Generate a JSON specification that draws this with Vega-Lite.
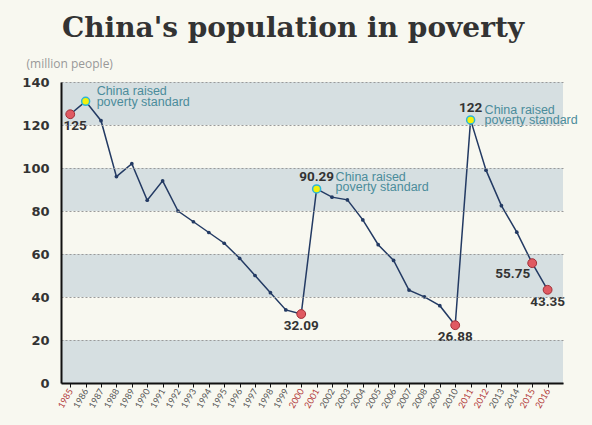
{
  "$schema": "https://vega.github.io/schema/vega-lite/v6.json",
  "width": 502,
  "height": 301,
  "autosize": {"type": "none"},
  "padding": {"left": 61, "top": 82, "right": 29, "bottom": 42},
  "background": "#f8f8f0",
  "title": {
    "text": "China's population in poverty",
    "font": "DejaVu Serif",
    "fontSize": 28,
    "fontWeight": "bold",
    "color": "#333333",
    "anchor": "middle",
    "baseline": "alphabetic",
    "offset": -8,
    "dx": -19
  },
  "config": {
    "view": {"stroke": null},
    "axis": {"domainColor": "#111111", "domainWidth": 2}
  },
  "datasets": {
    "main": [
      {"year": 1985, "value": 125, "kind": "red", "label": "125", "lpos": "b1", "npos": ""},
      {"year": 1986, "value": 131, "kind": "yellow", "label": "", "lpos": "", "npos": "n1"},
      {"year": 1987, "value": 122, "kind": "none", "label": "", "lpos": "", "npos": ""},
      {"year": 1988, "value": 96, "kind": "none", "label": "", "lpos": "", "npos": ""},
      {"year": 1989, "value": 102, "kind": "none", "label": "", "lpos": "", "npos": ""},
      {"year": 1990, "value": 85, "kind": "none", "label": "", "lpos": "", "npos": ""},
      {"year": 1991, "value": 94, "kind": "none", "label": "", "lpos": "", "npos": ""},
      {"year": 1992, "value": 80, "kind": "none", "label": "", "lpos": "", "npos": ""},
      {"year": 1993, "value": 75, "kind": "none", "label": "", "lpos": "", "npos": ""},
      {"year": 1994, "value": 70, "kind": "none", "label": "", "lpos": "", "npos": ""},
      {"year": 1995, "value": 65, "kind": "none", "label": "", "lpos": "", "npos": ""},
      {"year": 1996, "value": 58, "kind": "none", "label": "", "lpos": "", "npos": ""},
      {"year": 1997, "value": 50, "kind": "none", "label": "", "lpos": "", "npos": ""},
      {"year": 1998, "value": 42, "kind": "none", "label": "", "lpos": "", "npos": ""},
      {"year": 1999, "value": 34, "kind": "none", "label": "", "lpos": "", "npos": ""},
      {"year": 2000, "value": 32.09, "kind": "red", "label": "32.09", "lpos": "b", "npos": ""},
      {"year": 2001, "value": 90.29, "kind": "yellow", "label": "90.29", "lpos": "a", "npos": "n2"},
      {"year": 2002, "value": 86.45, "kind": "none", "label": "", "lpos": "", "npos": ""},
      {"year": 2003, "value": 85.17, "kind": "none", "label": "", "lpos": "", "npos": ""},
      {"year": 2004, "value": 75.87, "kind": "none", "label": "", "lpos": "", "npos": ""},
      {"year": 2005, "value": 64.32, "kind": "none", "label": "", "lpos": "", "npos": ""},
      {"year": 2006, "value": 56.98, "kind": "none", "label": "", "lpos": "", "npos": ""},
      {"year": 2007, "value": 43.2, "kind": "none", "label": "", "lpos": "", "npos": ""},
      {"year": 2008, "value": 40.07, "kind": "none", "label": "", "lpos": "", "npos": ""},
      {"year": 2009, "value": 35.97, "kind": "none", "label": "", "lpos": "", "npos": ""},
      {"year": 2010, "value": 26.88, "kind": "red", "label": "26.88", "lpos": "b", "npos": ""},
      {"year": 2011, "value": 122.38, "kind": "yellow", "label": "122", "lpos": "a", "npos": "n3"},
      {"year": 2012, "value": 98.99, "kind": "none", "label": "", "lpos": "", "npos": ""},
      {"year": 2013, "value": 82.49, "kind": "none", "label": "", "lpos": "", "npos": ""},
      {"year": 2014, "value": 70.17, "kind": "none", "label": "", "lpos": "", "npos": ""},
      {"year": 2015, "value": 55.75, "kind": "red", "label": "55.75", "lpos": "bl", "npos": ""},
      {"year": 2016, "value": 43.35, "kind": "red", "label": "43.35", "lpos": "b", "npos": ""}
    ],
    "bands": [
      {"value": 0, "hi": 20},
      {"value": 40, "hi": 60},
      {"value": 80, "hi": 100},
      {"value": 120, "hi": 140}
    ]
  },
  "encoding": {
    "y": {
      "field": "value",
      "type": "quantitative",
      "scale": {"domain": [0, 140], "nice": false, "zero": true},
      "axis": {
        "zindex": 1,
        "title": "(million people)",
        "titleAngle": 0,
        "titleAlign": "left",
        "titleBaseline": "middle",
        "titleX": -35,
        "titleY": -19,
        "titleFont": "Open Sans",
        "titleFontSize": 12,
        "titleFontWeight": "normal",
        "titleColor": "#999999",
        "values": [0, 20, 40, 60, 80, 100, 120, 140],
        "ticks": false,
        "labelPadding": 12,
        "labelFont": "DejaVu Sans",
        "labelFontSize": 13,
        "labelFontWeight": "bold",
        "labelColor": "#333333",
        "grid": true,
        "gridColor": "#9a9a9a",
        "gridDash": [2, 2],
        "gridWidth": 1
      }
    }
  },
  "layer": [
    {
      "data": {"name": "bands"},
      "mark": {"type": "rect", "color": "#d6dfe1"},
      "encoding": {"y2": {"field": "hi"}}
    },
    {
      "data": {"name": "main"},
      "encoding": {
        "x": {
          "field": "year",
          "type": "quantitative",
          "scale": {"domain": [1984.4, 2017], "nice": false, "zero": false},
          "axis": {
            "zindex": 1,
            "title": null,
            "values": [1985, 1986, 1987, 1988, 1989, 1990, 1991, 1992, 1993, 1994, 1995, 1996, 1997, 1998, 1999, 2000, 2001, 2002, 2003, 2004, 2005, 2006, 2007, 2008, 2009, 2010, 2011, 2012, 2013, 2014, 2015, 2016],
            "format": "d",
            "grid": false,
            "labelAngle": -60,
            "labelFont": "Lato",
            "labelFontSize": 9,
            "labelPadding": 2,
            "labelOverlap": false,
            "labelColor": {
              "condition": {"test": "indexof([1985,2000,2001,2011,2012,2015,2016], datum.value) >= 0", "value": "#b23a3a"},
              "value": "#555555"
            },
            "tickColor": "#111111",
            "tickSize": 4
          }
        }
      },
      "layer": [
        {"mark": {"type": "line", "color": "#233a63", "strokeWidth": 1.5}},
        {
          "transform": [{"filter": "datum.kind == 'none'"}],
          "mark": {"type": "circle", "size": 14, "color": "#233a63", "opacity": 1}
        },
        {
          "transform": [{"filter": "datum.kind == 'red'"}],
          "mark": {"type": "point", "shape": "circle", "filled": true, "size": 78, "fill": "#e05a62", "stroke": "#a03038", "strokeWidth": 1, "opacity": 1}
        },
        {
          "transform": [{"filter": "datum.kind == 'yellow'"}],
          "mark": {"type": "point", "shape": "circle", "filled": true, "size": 64, "fill": "#f2f20a", "stroke": "#2bb5d8", "strokeWidth": 1.5, "opacity": 1}
        },
        {
          "transform": [{"filter": "datum.lpos == 'b'"}],
          "mark": {"type": "text", "font": "Roboto", "fontSize": 13.5, "fontWeight": "bold", "color": "#333333", "baseline": "middle", "align": "center", "dy": 12},
          "encoding": {"text": {"field": "label"}}
        },
        {
          "transform": [{"filter": "datum.lpos == 'b1'"}],
          "mark": {"type": "text", "font": "Roboto", "fontSize": 13.5, "fontWeight": "bold", "color": "#333333", "baseline": "middle", "align": "center", "dy": 12, "dx": 5},
          "encoding": {"text": {"field": "label"}}
        },
        {
          "transform": [{"filter": "datum.lpos == 'a'"}],
          "mark": {"type": "text", "font": "Roboto", "fontSize": 13.5, "fontWeight": "bold", "color": "#333333", "baseline": "middle", "align": "center", "dy": -12},
          "encoding": {"text": {"field": "label"}}
        },
        {
          "transform": [{"filter": "datum.lpos == 'bl'"}],
          "mark": {"type": "text", "font": "Roboto", "fontSize": 13.5, "fontWeight": "bold", "color": "#333333", "baseline": "middle", "align": "right", "dy": 11, "dx": -2},
          "encoding": {"text": {"field": "label"}}
        },
        {
          "transform": [{"filter": "datum.npos == 'n1'"}],
          "mark": {"type": "text", "text": "China raised\npoverty standard", "lineBreak": "\n", "lineHeight": 10.5, "font": "Liberation Sans", "fontSize": 12.5, "color": "#4b8c9b", "baseline": "bottom", "align": "left", "dx": 11, "dy": -3}
        },
        {
          "transform": [{"filter": "datum.npos == 'n3'"}],
          "mark": {"type": "text", "text": "China raised\npoverty standard", "lineBreak": "\n", "lineHeight": 10.5, "font": "Liberation Sans", "fontSize": 12.5, "color": "#4b8c9b", "baseline": "bottom", "align": "left", "dx": 14, "dy": -3}
        },
        {
          "transform": [{"filter": "datum.npos == 'n2'"}],
          "mark": {"type": "text", "text": "China raised\npoverty standard", "lineBreak": "\n", "lineHeight": 10.5, "font": "Liberation Sans", "fontSize": 12.5, "color": "#4b8c9b", "baseline": "bottom", "align": "left", "dx": 19, "dy": -5}
        }
      ]
    }
  ]
}
